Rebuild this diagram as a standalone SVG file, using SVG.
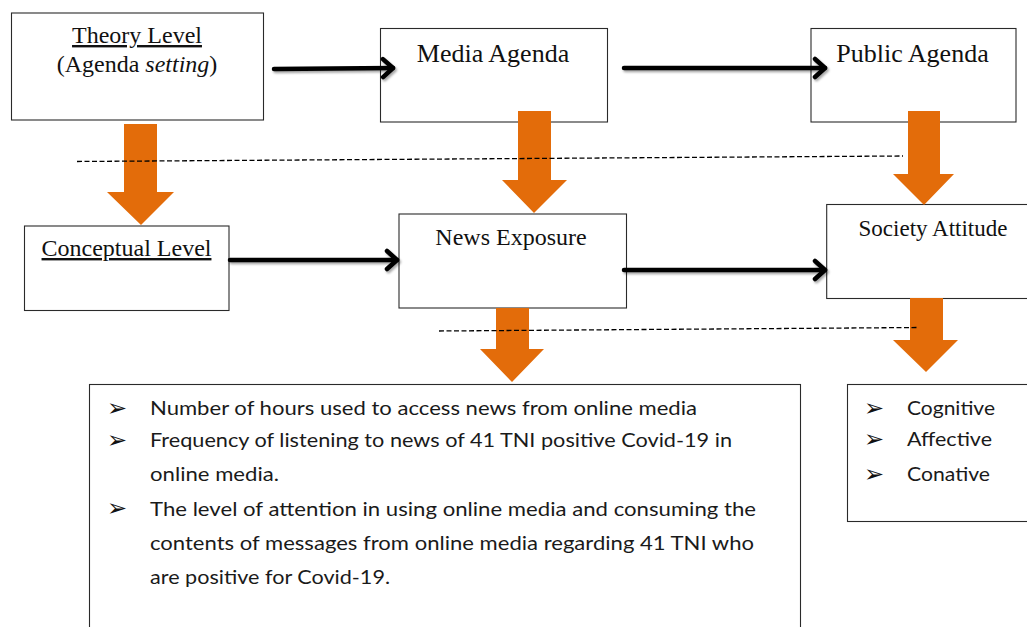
<svg xmlns="http://www.w3.org/2000/svg" width="1027" height="627" viewBox="0 0 1027 627">
<style>
.box{fill:#fff;stroke:#2a2a2a;stroke-width:1.1}
.serif{font-family:"Liberation Serif","Times New Roman",serif;fill:#111;text-anchor:middle}
.sans{font-family:Lato,"Open Sans","Liberation Sans",sans-serif;fill:#1a1a1a;font-size:19px}
.bul{font-family:"DejaVu Sans",sans-serif;fill:#111;font-size:24px}
.conn{stroke:#000;stroke-width:4.5;fill:none;stroke-linecap:round;marker-end:url(#chev)}
.dash{stroke:#000;stroke-width:1.3;stroke-dasharray:5 2.5;fill:none}
.blk{fill:#E36C0A}
</style>
<defs>
<filter id="sh" filterUnits="userSpaceOnUse" x="0" y="0" width="1027" height="627">
<feDropShadow dx="1.5" dy="2" stdDeviation="1.3" flood-color="#000" flood-opacity="0.35"/>
</filter>
<marker id="chev" markerUnits="userSpaceOnUse" markerWidth="30" markerHeight="30" refX="14" refY="12" orient="auto" viewBox="0 0 30 30">
<path d="M4,3 L14,12 L4,21" fill="none" stroke="#000" stroke-width="4.5" stroke-linecap="round" stroke-linejoin="round"/>
</marker>
</defs>

<g id="theory">
<rect class="box" x="11.5" y="13" width="252" height="107"/>
<text class="serif" x="137" y="43" font-size="24" text-decoration="underline">Theory Level</text>
<text class="serif" x="137" y="72" font-size="24">(Agenda <tspan font-style="italic">setting</tspan>)</text>
</g>
<g id="media-agenda">
<rect class="box" x="380.5" y="28.5" width="227" height="93.5"/>
<text class="serif" x="493" y="62" font-size="26">Media Agenda</text>
</g>
<g id="public-agenda">
<rect class="box" x="811" y="28.5" width="205" height="93.5"/>
<text class="serif" x="912.5" y="62" font-size="26">Public Agenda</text>
</g>
<g id="conceptual">
<rect class="box" x="24.5" y="226" width="204.5" height="84.5"/>
<text class="serif" x="126.5" y="256" font-size="24" text-decoration="underline">Conceptual Level</text>
</g>
<g id="news-exposure">
<rect class="box" x="399" y="214" width="227.5" height="94"/>
<text class="serif" x="511" y="245" font-size="24">News Exposure</text>
</g>
<g id="society-attitude">
<rect class="box" x="826.7" y="204.5" width="215" height="94"/>
<text class="serif" x="933" y="236" font-size="23">Society Attitude</text>
</g>
<g id="indicators">
<rect class="box" x="89.5" y="384.5" width="711" height="300"/>
<text class="bul" x="107" y="416">➢</text>
<text class="bul" x="107" y="448">➢</text>
<text class="bul" x="107" y="516">➢</text>
<text class="sans" x="150" y="415" textLength="547" lengthAdjust="spacingAndGlyphs">Number of hours used to access news from online media</text>
<text class="sans" x="150" y="447" textLength="582" lengthAdjust="spacingAndGlyphs">Frequency of listening to news of 41 TNI positive Covid-19 in</text>
<text class="sans" x="150" y="481" textLength="129" lengthAdjust="spacingAndGlyphs">online media.</text>
<text class="sans" x="150" y="515.5" textLength="606" lengthAdjust="spacingAndGlyphs">The level of attention in using online media and consuming the</text>
<text class="sans" x="150" y="550" textLength="604" lengthAdjust="spacingAndGlyphs">contents of messages from online media regarding 41 TNI who</text>
<text class="sans" x="150" y="583.5" textLength="240" lengthAdjust="spacingAndGlyphs">are positive for Covid-19.</text>
</g>
<g id="attitude-dimensions">
<rect class="box" x="847.5" y="384.5" width="200" height="137"/>
<text class="bul" x="864" y="416">➢</text>
<text class="bul" x="864" y="447">➢</text>
<text class="bul" x="864" y="482">➢</text>
<text class="sans" x="907" y="415" textLength="88" lengthAdjust="spacingAndGlyphs">Cognitive</text>
<text class="sans" x="907" y="446" textLength="85" lengthAdjust="spacingAndGlyphs">Affective</text>
<text class="sans" x="907" y="481" textLength="83" lengthAdjust="spacingAndGlyphs">Conative</text>
</g>

<g id="connectors">
<g filter="url(#sh)">
<line class="conn" x1="274" y1="69" x2="393" y2="68"/>
<line class="conn" x1="624" y1="68" x2="825" y2="68"/>
<line class="conn" x1="230" y1="260" x2="397" y2="260"/>
<line class="conn" x1="624" y1="270" x2="825" y2="270"/>
</g>
<polygon class="blk" points="124,124 157,124 157,192 174,192 141,225 107,192 124,192"/>
<polygon class="blk" points="518,111 551,111 551,180 567,180 534,213 502,180 518,180"/>
<polygon class="blk" points="908,111 940,111 940,174 954,174 924,205 893,174 908,174"/>
<polygon class="blk" points="496,308 529,308 529,349 544,349 512,382 480,349 496,349"/>
<polygon class="blk" points="910,298 943,298 943,340 958,340 926,372 893,340 910,340"/>
<line class="dash" x1="77" y1="161.5" x2="903" y2="156"/>
<line class="dash" x1="439" y1="331" x2="919" y2="327.5"/>
</g>
</svg>
